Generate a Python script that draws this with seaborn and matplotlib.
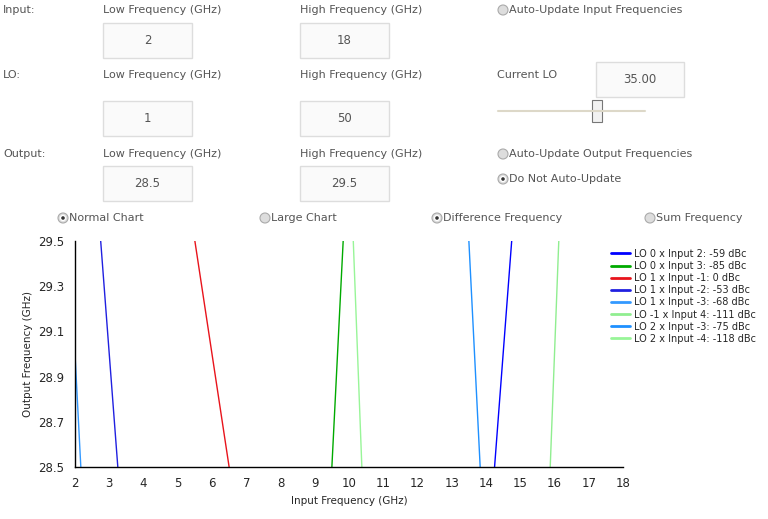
import matplotlib
matplotlib.use("Agg")
import matplotlib.pyplot as plt
import matplotlib.patches as mpatches
import seaborn as sns
import pandas as pd

# spur lines: input frequency where each crosses 29.5 and 28.5 GHz output
labels = ["LO 0 x Input 2: -59 dBc", "LO 0 x Input 3: -85 dBc", "LO 1 x Input -1: 0 dBc",
          "LO 1 x Input -2: -53 dBc", "LO 1 x Input -3: -68 dBc", "LO -1 x Input 4: -111 dBc",
          "LO 2 x Input -3: -75 dBc", "LO 2 x Input -4: -118 dBc"]
x_top = [14.75, 9.83, 5.5, 2.75, 2.0, 16.125, 13.5, 10.125]
y_top = [29.5, 29.5, 29.5, 29.5, 29.0, 29.5, 29.5, 29.5]
x_bot = [14.25, 9.5, 6.5, 3.25, 2.17, 15.875, 13.83, 10.375]
y_bot = [28.5, 28.5, 28.5, 28.5, 28.5, 28.5, 28.5, 28.5]
colors = ["#0000ff", "#00aa00", "#e8141c", "#2020e0", "#3399ff", "#90ee90", "#1e90ff", "#98f598"]

rows = []
for lab, xt, yt, xb, yb in zip(labels, x_top, y_top, x_bot, y_bot):
    rows.append((lab, xt, yt))
    rows.append((lab, xb, yb))
df = pd.DataFrame(rows, columns=["series", "x", "y"])

sns.set_style("white")
plt.rcParams['font.family'] = ['DejaVu Sans']
W, H = 768, 519
fig = plt.figure(figsize=(W / 100, H / 100), dpi=100)
fig.patch.set_facecolor("white")

ax = fig.add_axes([75 / W, 1 - 467 / H, 548 / W, 226 / H])
sns.lineplot(data=df, x="x", y="y", hue="series", palette=colors, sort=False,
             estimator=None, units="series", linewidth=1, ax=ax, legend=False)
ax.set_xlim(2, 18)
ax.set_ylim(28.5, 29.5)
ax.set_xticks(range(2, 19))
ax.set_yticks([28.5, 28.7, 28.9, 29.1, 29.3, 29.5])
ax.set_yticklabels(["28.5", "28.7", "28.9", "29.1", "29.3", "29.5"])
ax.tick_params(direction="out", length=4, labelsize=8.5, color="black")
ax.set_xlabel("Input Frequency (GHz)", fontsize=7.5)
ax.set_ylabel("Output Frequency (GHz)", fontsize=7.5)
for s in ["top", "right"]:
    ax.spines[s].set_visible(False)
for s in ["left", "bottom"]:
    ax.spines[s].set_color("black")
    ax.spines[s].set_linewidth(1)

# legend
handles = [plt.Line2D([], [], color=c, lw=2) for c in colors]
fig.legend(handles, labels, loc="upper left", bbox_to_anchor=(606 / W, 1 - 244 / H),
           frameon=False, fontsize=7, handlelength=2, handletextpad=0.4,
           labelspacing=0.22, borderpad=0)


def txt(x, y, s, **kw):
    fig.text(x / W, 1 - y / H, s, fontsize=8, color="#555555", va="center", **kw)


def box(x0, y0, x1, y1, s):
    fig.patches.append(mpatches.Rectangle((x0 / W, 1 - y1 / H), (x1 - x0) / W, (y1 - y0) / H,
                                          transform=fig.transFigure, facecolor="#fafafa",
                                          edgecolor="#dddddd", lw=1))
    fig.text((x0 + x1) / 2 / W, 1 - (y0 + y1) / 2 / H, s, fontsize=8.5, color="#555555",
             ha="center", va="center")


def radio(x, y, s, on=False):
    fig.patches.append(mpatches.Ellipse((x / W, 1 - y / H), 10 / W, 10 / H, transform=fig.transFigure,
                                        facecolor="#dddddd", edgecolor="#aaaaaa", lw=0.8))
    if on:
        fig.patches.append(mpatches.Ellipse((x / W, 1 - y / H), 5 / W, 5 / H,
                                            transform=fig.transFigure, facecolor="#333333"))
    txt(x + 6, y, s)


txt(3, 10, "Input:")
txt(3, 75, "LO:")
txt(3, 154, "Output:")
for y in [10, 75, 154]:
    txt(103, y, "Low Frequency (GHz)")
    txt(300, y, "High Frequency (GHz)")
box(103, 23, 192, 58, "2")
box(300, 23, 389, 58, "18")
box(103, 101, 192, 136, "1")
box(300, 101, 389, 136, "50")
box(103, 166, 192, 201, "28.5")
box(300, 166, 389, 201, "29.5")
box(596, 62, 684, 97, "35.00")
txt(497, 75, "Current LO")
radio(503, 10, "Auto-Update Input Frequencies")
radio(503, 154, "Auto-Update Output Frequencies")
radio(503, 179, "Do Not Auto-Update", on=True)
radio(63, 218, "Normal Chart", on=True)
radio(265, 218, "Large Chart")
radio(437, 218, "Difference Frequency", on=True)
radio(650, 218, "Sum Frequency")

# LO slider
fig.lines.append(plt.Line2D([498 / W, 645 / W], [1 - 111 / H, 1 - 111 / H],
                            transform=fig.transFigure, color="#ddd8c8", lw=1.5))
fig.patches.append(mpatches.Rectangle((592 / W, 1 - 122 / H), 10 / W, 22 / H,
                                      transform=fig.transFigure, facecolor="#f2f2f2",
                                      edgecolor="#777777", lw=0.8))

fig.savefig("out.png", dpi=100)
